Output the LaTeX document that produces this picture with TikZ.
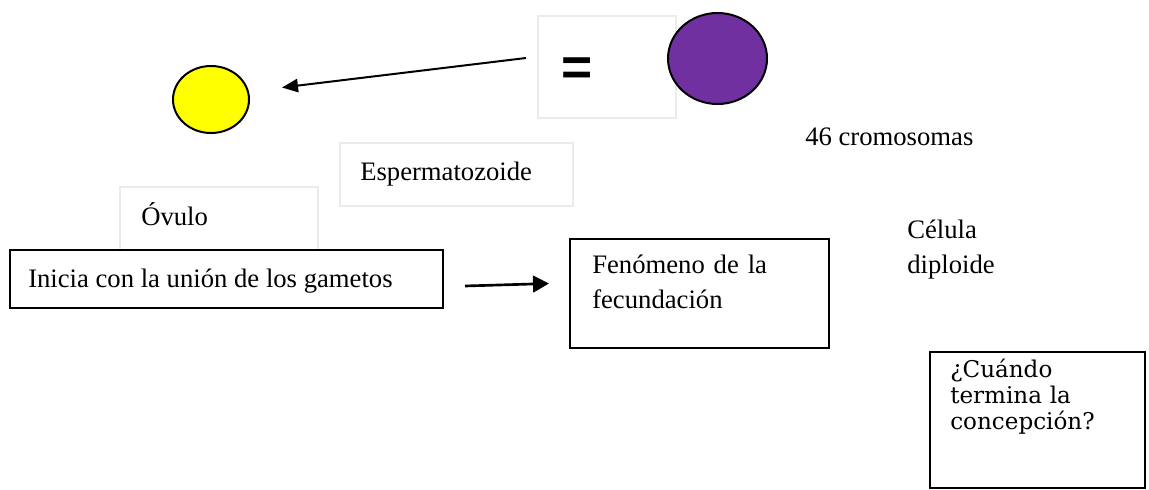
\documentclass[tikz,border=0pt]{standalone}
\usepackage{fontspec}
\setmainfont{Liberation Serif}
\newfontfamily\qfont{DejaVu Serif}
\newfontfamily\eqfont{Liberation Sans}
\usetikzlibrary{shapes.geometric,arrows.meta}
\definecolor{myyellow}{HTML}{FFFF00}
\definecolor{mypurple}{HTML}{7030A0}
\colorlet{myframe}{black!8}

\begin{document}
\begin{tikzpicture}[x=0.75pt,y=-0.75pt,
  txt/.style={inner sep=0,anchor=base west,align=left,font=\fontsize{20}{26.25}\selectfont},
  qtxt/.style={inner sep=0,anchor=base west,align=left,font=\qfont\fontsize{17.3}{19.5}\selectfont},
  softbox/.style={draw=myframe,line width=1.1pt,rectangle,anchor=north west,inner sep=0,outer sep=0,fill=white},
  hardbox/.style={draw=black,line width=1.5pt,rectangle,anchor=north west,inner sep=0,outer sep=0,fill=white},
  cell/.style={draw=black,line width=1.5pt,ellipse,inner sep=0,outer sep=0},
  toparrow/.style={line width=1.5pt,-{Triangle[length=12pt,width=10pt]}},
  midarrow/.style={line width=2pt,-{Triangle[length=12pt,width=12.5pt]}}]
\useasboundingbox (0,0) rectangle (1149,489);

\node[softbox,minimum width={138*0.75pt},minimum height={102*0.75pt}] (eqbox) at (538,16) {};
\node[inner sep=0,font=\eqfont\bfseries\fontsize{40}{40}\selectfont] (eq) at (577,72) {=};
\node[cell,fill=mypurple,minimum width={99*0.75pt},minimum height={91*0.75pt}] (zygote) at (717.5,58.5) {};
\node[cell,fill=myyellow,minimum width={76*0.75pt},minimum height={67*0.75pt}] (ovum) at (211,99.5) {};
\draw[toparrow] ([shift={(-12,-9)}]eqbox.west) -- ([shift={(33,-12)}]ovum.east);

\node[txt] (chromo) at (805,145) {46 cromosomas};

\node[softbox,minimum width={233*0.75pt},minimum height={63*0.75pt}] (spermbox) at (340,143) {};
\node[txt] (sperm) at (360,180) {Espermatozoide};

\node[softbox,minimum width={198*0.75pt},minimum height={70*0.75pt}] (ovbox) at (120,187) {};
\node[txt] (ov) at (141,225) {Óvulo};

\node[hardbox,minimum width={433*0.75pt},minimum height={58*0.75pt}] (startbox) at (10,250) {};
\node[txt] (start) at (28,287) {Inicia con la unión de los gametos};

\node[hardbox,minimum width={259*0.75pt},minimum height={109*0.75pt}] (fecbox) at (570,239) {};
\node[txt,text width={230*0.75pt}] (fec) at (592,273) {Fenómeno de la\\fecundación};
\draw[midarrow] ([shift={(22,7)}]startbox.east) -- ([shift={(-21,-10)}]fecbox.west);

\node[txt,text width={120*0.75pt}] (cell) at (907,238) {Célula\\diploide};

\node[hardbox,minimum width={215*0.75pt},minimum height={136*0.75pt}] (qbox) at (930,352) {};
\node[qtxt,text width={190*0.75pt}] (q) at (950,377) {¿Cuándo\\termina la\\concepción?};
\end{tikzpicture}
\end{document}
